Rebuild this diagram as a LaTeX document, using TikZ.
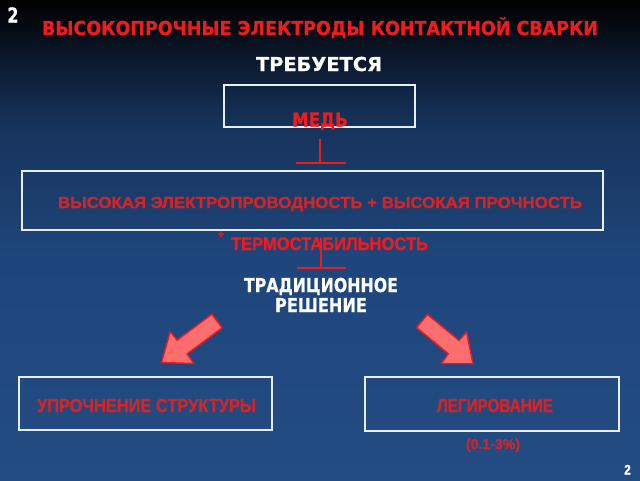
\documentclass[tikz,border=0pt]{standalone}
\usepackage{fontspec}
\setmainfont{DejaVu Sans}[BoldFeatures={FakeBold=0.6}]
\newfontfamily\lsans{Liberation Sans}[BoldFeatures={FakeBold=1}]
\usepackage{graphicx}
\newlength\chh
\newcommand\fit[3]{\settoheight\chh{Н}\resizebox{#1}{#2}{\raisebox{0pt}[\chh][0pt]{#3}}}
\definecolor{bgA}{HTML}{000000}
\definecolor{bgB}{HTML}{16325A}
\definecolor{bgC}{HTML}{1F467C}
\definecolor{bgD}{HTML}{234C83}
\definecolor{redT}{HTML}{EE1C1C}
\definecolor{redB}{HTML}{D62424}
\definecolor{arrF}{HTML}{FF6E6E}
\definecolor{arrD}{HTML}{E01E28}
\definecolor{boxL}{HTML}{E6EEF6}
\tikzset{
  txt/.style={inner sep=0pt, outer sep=0pt, anchor=base},
  wtxt/.style={txt, text=white, font=\bfseries},
  rtxt/.style={txt, text=redT, font=\bfseries},
  btxt/.style={txt, text=redB, font=\lsans\bfseries},
  frame/.style={draw=boxL, line width=1.8pt, inner sep=0pt},
  tline/.style={draw=redT, line width=1.8pt},
  blockarrow/.style={fill=arrF, draw=arrD, line width=1.4pt, line join=miter}
}
\begin{document}
\begin{tikzpicture}[x=1pt,y=-1pt]
\useasboundingbox (0,0) rectangle (640,480);
\shade[top color=bgA, bottom color=bgB] (0,0) rectangle (640,120.5);
\shade[top color=bgB, bottom color=bgC] (0,120) rectangle (640,260.5);
\shade[top color=bgC, bottom color=bgD] (0,260) rectangle (640,480);

% headings
\node[wtxt] (num) at (13,22.5) {\fit{11pt}{15pt}{2}};
\node[rtxt] (title) at (320,35) {\fit{556pt}{14pt}{ВЫСОКОПРОЧНЫЕ ЭЛЕКТРОДЫ КОНТАКТНОЙ СВАРКИ}};
\node[wtxt] (need) at (319,71) {\fit{126pt}{14pt}{ТРЕБУЕТСЯ}};

% copper box
\node[frame, minimum width=191pt, minimum height=42pt] (med) at (319.5,106) {};
\node[rtxt] (medtxt) at (320,126.5) {\fit{56pt}{14pt}{МЕДЬ}};

% first T connector
\coordinate (t1a) at (320,139);
\coordinate (t1b) at (320,163);
\coordinate (t1l) at (296,163);
\coordinate (t1r) at (346,163);
\draw[tline] (t1a) -- (t1b);
\draw[tline] (t1l) -- (t1r);

% main requirement box
\node[frame, minimum width=581pt, minimum height=59pt] (req) at (312.5,200.5) {};
\node[btxt] (reqtxt) at (320,208) {\fit{524pt}{11pt}{ВЫСОКАЯ ЭЛЕКТРОПРОВОДНОСТЬ + ВЫСОКАЯ ПРОЧНОСТЬ}};
\node[txt, text=redT, anchor=center] (plus) at (221,234.5) {\resizebox{6pt}{7pt}{\lsans\bfseries +}};
\node[btxt, text=redT] (thermo) at (329.5,250) {\fit{197pt}{12.5pt}{ТЕРМОСТАБИЛЬНОСТЬ}};

% second T connector
\coordinate (t2a) at (321,238);
\coordinate (t2b) at (321,268);
\coordinate (t2l) at (297,268);
\coordinate (t2r) at (346,268);
\draw[tline] (t2a) -- (t2b);
\draw[tline] (t2l) -- (t2r);

\node[wtxt] (trad1) at (321,292) {\fit{154pt}{14pt}{ТРАДИЦИОННОЕ}};
\node[wtxt] (trad2) at (321,312) {\fit{92pt}{14pt}{РЕШЕНИЕ}};

% block arrows
\draw[blockarrow] (222.1,327.8) -- (211.9,314.2) -- (177,340.2) -- (170.2,331.5)
  -- (161.5,362.5) -- (193.8,363.5) -- (187.1,353.9) -- cycle;
\draw[blockarrow] (416.6,327.6) -- (427.4,314.4) -- (459.1,340.5) -- (466.5,332)
  -- (473,363.5) -- (441.5,363.5) -- (448.3,353.7) -- cycle;

% bottom boxes
\node[frame, minimum width=253pt, minimum height=53pt] (struct) at (145.5,403.5) {};
\node[btxt] (structtxt) at (146.5,412) {\fit{219pt}{13pt}{УПРОЧНЕНИЕ СТРУКТУРЫ}};
\node[frame, minimum width=254pt, minimum height=54pt] (alloy) at (492,404) {};
\node[btxt] (alloytxt) at (495,412) {\fit{116pt}{13pt}{ЛЕГИРОВАНИЕ}};
\node[btxt] (pct) at (493,449) {\fit{54pt}{10pt}{(0.1-3\%)}};

\node[txt, text=white, font=\lsans\bfseries] (page) at (627.5,474.5) {\fit{6.5pt}{9.5pt}{2}};
\end{tikzpicture}
\end{document}
